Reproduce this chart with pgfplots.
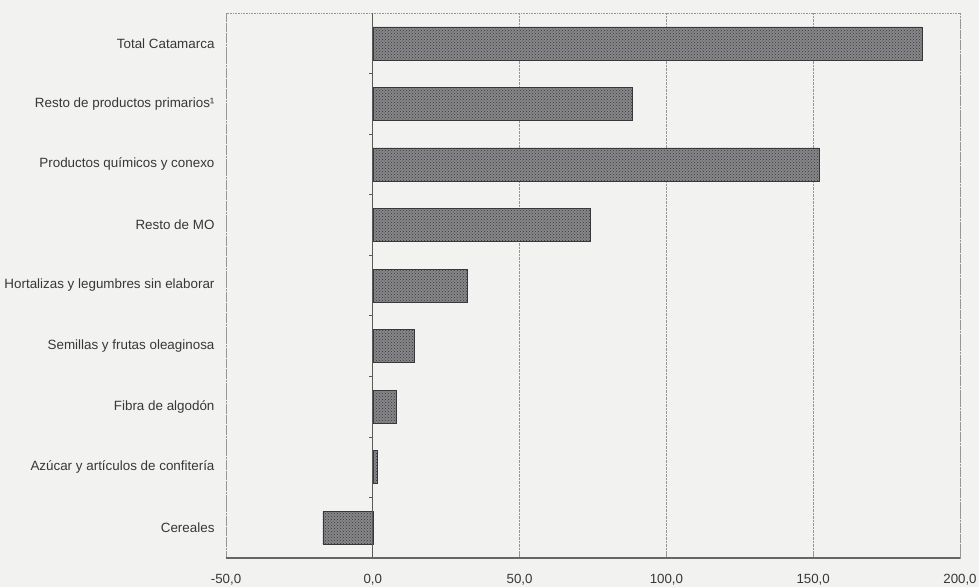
\documentclass[border=0pt]{standalone}
\usepackage{fontspec}
\setmainfont{Liberation Sans}
\usepackage{pgfplots}
\pgfplotsset{compat=1.18}
\usetikzlibrary{patterns}
\definecolor{bg}{RGB}{242,242,240}
\definecolor{txt}{RGB}{55,55,55}
\definecolor{gridc}{RGB}{150,150,150}
\definecolor{barfill}{RGB}{135,135,138}
\definecolor{bardot}{RGB}{55,55,60}
\begin{document}
\begin{tikzpicture}
\fill[bg] (-226pt,-29pt) rectangle (753pt,558pt);
\path[use as bounding box] (-226pt,-29pt) rectangle (753pt,558pt);
\begin{axis}[
  at={(0,0)}, anchor=south west,
  scale only axis,
  width=734pt, height=545pt,
  xmin=-50, xmax=200,
  ymin=-0.5, ymax=8.5,
  xtick={-50,0,50,100,150,200},
  xticklabels={-50{,}0,0{,}0,50{,}0,100{,}0,150{,}0,200{,}0},
  ytick={0,...,8},
  yticklabels={Cereales,Azúcar y artículos de confitería,Fibra de algodón,Semillas y frutas oleaginosa,Hortalizas y legumbres sin elaborar,Resto de MO,Productos químicos y conexo,Resto de productos primarios¹,Total Catamarca},
  xticklabel style={font=\fontsize{13.3}{15}\selectfont, text=txt, yshift=-13pt},
  yticklabel style={font=\fontsize{13.4}{15}\selectfont, text=txt, xshift=-8pt},
  major y tick style={draw=none},
  major x tick style={gridc, line width=0.6pt},
  major tick length=4pt,
  xtick pos=bottom,
  xmajorgrids,
  grid style={gridc, densely dotted, line width=0.6pt},
  axis line style={draw=none},
  clip=false,
]
\draw[gridc, densely dotted, line width=0.6pt] (rel axis cs:0,0) -- (rel axis cs:0,1) -- (rel axis cs:1,1) -- (rel axis cs:1,0);
\addplot[xbar, bar width=0.545, draw=bardot, line width=0.5pt, fill=barfill,
  postaction={pattern=crosshatch dots, pattern color=bardot}]
  coordinates {
  (-17.0,0)
  (1.6,1)
  (8.0,2)
  (14.0,3)
  (32.2,4)
  (74.0,5)
  (152.0,6)
  (88.4,7)
  (187.0,8)
};
\draw[gray!70!black, line width=0.7pt] (axis cs:0,-0.5) -- (axis cs:0,8.5);
\pgfplotsinvokeforeach{0.5,1.5,2.5,3.5,4.5,5.5,6.5,7.5}{
  \draw[gray!70!black, line width=0.7pt] (axis cs:0,#1) -- ++(-4pt,0pt);
}
\draw[gray!80!black, line width=1.3pt] (rel axis cs:0,0) -- (rel axis cs:1,0);
\end{axis}
\end{tikzpicture}
\end{document}
